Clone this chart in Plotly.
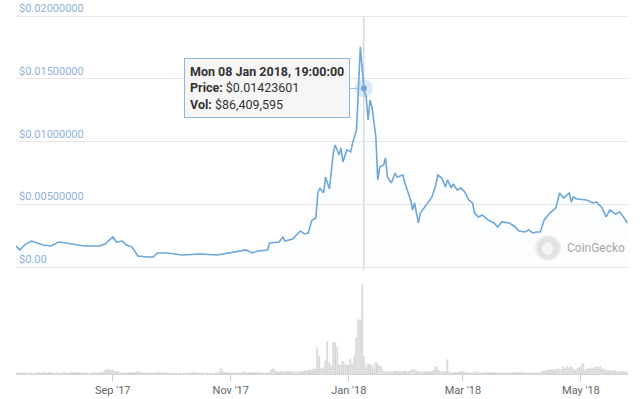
import plotly.graph_objects as go
import pandas as pd

# ---- price series ----
price_dates = [
    "2017-07-13", "2017-07-15", "2017-07-18", "2017-07-21", "2017-07-24", "2017-07-27", "2017-07-31",
    "2017-08-04", "2017-08-08", "2017-08-17", "2017-08-25", "2017-08-28",
    "2017-09-01", "2017-09-03", "2017-09-06", "2017-09-08", "2017-09-11", "2017-09-14", "2017-09-19",
    "2017-09-22", "2017-09-24", "2017-09-29",
    "2017-10-07", "2017-10-16", "2017-10-25",
    "2017-11-02", "2017-11-09", "2017-11-12", "2017-11-15", "2017-11-20", "2017-11-21", "2017-11-26",
    "2017-11-28", "2017-11-29",
    "2017-12-03", "2017-12-07", "2017-12-09", "2017-12-11", "2017-12-13", "2017-12-15", "2017-12-16",
    "2017-12-17", "2017-12-19", "2017-12-20", "2017-12-22", "2017-12-24", "2017-12-25", "2017-12-27",
    "2017-12-28", "2017-12-29", "2017-12-31",
    "2018-01-02", "2018-01-03", "2018-01-05", "2018-01-06", "2018-01-07", "2018-01-08 19:00",
    "2018-01-10", "2018-01-11", "2018-01-12", "2018-01-13", "2018-01-15", "2018-01-16", "2018-01-17",
    "2018-01-19", "2018-01-20", "2018-01-21", "2018-01-23", "2018-01-25", "2018-01-26", "2018-01-29",
    "2018-01-30",
    "2018-02-02", "2018-02-03", "2018-02-04", "2018-02-06", "2018-02-07", "2018-02-09", "2018-02-11",
    "2018-02-13", "2018-02-15", "2018-02-16", "2018-02-18", "2018-02-20", "2018-02-21", "2018-02-23",
    "2018-02-24", "2018-02-26", "2018-02-28",
    "2018-03-02", "2018-03-04", "2018-03-06", "2018-03-07", "2018-03-09", "2018-03-11", "2018-03-14",
    "2018-03-17", "2018-03-19", "2018-03-21", "2018-03-25", "2018-03-28", "2018-03-30",
    "2018-04-02", "2018-04-04", "2018-04-06", "2018-04-08", "2018-04-10", "2018-04-12", "2018-04-15",
    "2018-04-18", "2018-04-20", "2018-04-22", "2018-04-25", "2018-04-26", "2018-04-27", "2018-04-29",
    "2018-05-04", "2018-05-07", "2018-05-09", "2018-05-12", "2018-05-14", "2018-05-16", "2018-05-19",
    "2018-05-21", "2018-05-23", "2018-05-25",
]
price_values = [
    0.00167, 0.00136, 0.00183, 0.00207, 0.00191, 0.00175, 0.00167,
    0.00199, 0.00191, 0.00167, 0.00167, 0.00183,
    0.00239, 0.00199, 0.00207, 0.00175, 0.00159, 0.00088, 0.00080,
    0.00080, 0.00112, 0.00112,
    0.00096, 0.00104, 0.00096,
    0.00120, 0.00136, 0.00112, 0.00128, 0.00136, 0.00191, 0.00199,
    0.00239, 0.00207,
    0.00223, 0.00287, 0.00263, 0.00271, 0.00375, 0.00391, 0.00590,
    0.00630, 0.00590, 0.00717, 0.00622, 0.00909, 0.00972, 0.00893,
    0.00949, 0.00837, 0.00933,
    0.00917, 0.00989, 0.01092, 0.01491, 0.01754, 0.01423601,
    0.01355, 0.01172, 0.01331, 0.01275, 0.01036, 0.00694, 0.00797,
    0.00813, 0.00869, 0.00717, 0.00670, 0.00749, 0.00717, 0.00733,
    0.00670,
    0.00534, 0.00454, 0.00510, 0.00351, 0.00430, 0.00470, 0.00510,
    0.00558, 0.00654, 0.00733, 0.00709, 0.00638, 0.00694, 0.00630,
    0.00662, 0.00614, 0.00630,
    0.00598, 0.00534, 0.00510, 0.00430, 0.00399, 0.00415, 0.00375,
    0.00351, 0.00319, 0.00359, 0.00351, 0.00319, 0.00287,
    0.00279, 0.00295, 0.00271, 0.00279, 0.00279, 0.00375, 0.00430,
    0.00470, 0.00590, 0.00550, 0.00590, 0.00518, 0.00558, 0.00542,
    0.00534, 0.00510, 0.00518, 0.00470, 0.00399, 0.00454, 0.00422,
    0.00438, 0.00399, 0.00351,
]

# ---- daily volume in $ millions ----
vol_jul = [0.5, 0.4, 0.5, 0.6, 1.0, 0.5, 0.4, 0.5, 0.6, 0.4, 0.5, 0.5, 0.6, 0.4, 0.5, 0.5, 0.4, 0.6, 0.5]
vol_aug = [0.5, 0.4, 0.6, 0.5, 0.4, 0.5, 0.6, 0.5, 0.4, 0.5, 0.6, 0.5, 0.5, 1.0, 0.5, 0.4, 0.6, 0.5, 0.5, 0.4,
           0.6, 0.5, 0.5, 0.6, 0.5, 0.8, 1.2, 3.0, 4.0, 3.6, 3.2]
vol_sep = [3.8, 2.6, 2.0, 1.8, 1.2, 1.0, 0.8, 0.9, 0.7, 0.6, 0.6, 0.5, 0.8, 2.0, 0.8, 0.6, 0.5, 0.5, 0.6, 0.5,
           1.2, 0.6, 0.5, 0.5, 1.0, 0.5, 0.4, 0.5, 0.5, 0.4]
vol_oct = [0.4, 0.5, 0.4, 0.5, 0.4, 0.5, 0.4, 0.5, 0.4, 0.5, 0.4, 0.5, 1.0, 0.5, 0.4, 0.5, 1.0, 0.5, 0.4, 0.5,
           0.4, 0.5, 0.4, 0.5, 0.6, 0.8, 4.8, 1.5, 0.6, 0.5, 0.5]
vol_nov = [0.5, 0.6, 0.5, 0.5, 0.6, 0.5, 0.8, 2.0, 0.8, 0.6, 0.5, 0.6, 0.7, 0.6, 0.5, 0.6, 0.7, 0.6, 0.6, 0.8,
           1.0, 3.8, 4.8, 3.0, 1.5, 1.2, 2.0, 2.0, 1.2, 1.8]
vol_dec = [1.5, 2.0, 1.6, 2.0, 1.4, 1.8, 2.2, 1.8, 3.0, 2.9, 1.9, 3.9, 2.9, 4.8, 3.9, 25.2, 16.5, 4.8, 5.8,
           12.6, 31.0, 10.7, 7.8, 30.0, 30.0, 25.2, 8.7, 7.8, 11.6, 8.7, 7.8]
vol_jan = [8.7, 14.6, 9.7, 17.5, 35.0, 52.0, 52.4, 86.41, 16.5, 5.8, 8.7, 8.7, 7.8, 3.9, 10.7, 9.7, 7.8, 6.8,
           2.9, 1.9, 1.9, 1.9, 1.9, 1.9, 2.9, 1.9, 1.9, 1.9, 1.9, 2.9, 1.9]
vol_feb = [1.9, 2.9, 3.9, 3.9, 2.9, 1.9, 1.9, 1.9, 1.9, 1.9, 1.9, 1.9, 1.9, 2.9, 6.8, 4.8, 2.9, 1.9, 1.9, 1.9,
           13.6, 1.9, 1.0, 1.0, 1.0, 1.0, 1.0, 1.9]
vol_mar = [1.5, 1.2, 1.0, 1.4, 1.0, 1.2, 1.0, 1.6, 1.2, 1.0, 1.4, 1.0, 1.2, 1.0, 1.0, 1.3, 1.0, 1.2, 1.0, 1.0,
           1.2, 1.0, 1.1, 1.0, 1.0, 1.2, 1.0, 1.0, 1.1, 1.0, 1.0]
vol_apr = [1.0, 1.0, 1.2, 1.0, 1.0, 1.1, 1.0, 1.0, 1.2, 1.0, 2.9, 1.9, 2.9, 2.9, 3.9, 2.9, 3.9, 2.9, 4.8, 3.9,
           3.9, 6.8, 4.8, 6.8, 5.8, 6.8, 4.8, 2.9, 3.9, 5.8]
vol_may = [5.8, 9.7, 2.9, 3.9, 4.8, 5.8, 4.8, 5.8, 6.8, 5.8, 6.8, 4.8, 3.9, 2.9, 2.9, 2.9, 1.9, 2.9, 2.9, 1.9,
           1.9, 2.9, 1.9, 1.9, 1.9]
vol_month_starts = ["2017-07-13", "2017-08-01", "2017-09-01", "2017-10-01", "2017-11-01", "2017-12-01",
                    "2018-01-01", "2018-02-01", "2018-03-01", "2018-04-01", "2018-05-01"]
vol_months = [vol_jul, vol_aug, vol_sep, vol_oct, vol_nov, vol_dec, vol_jan, vol_feb, vol_mar, vol_apr, vol_may]

# ---- axis ticks ----
x_tick_vals = ["2017-09-01", "2017-11-01", "2018-01-01", "2018-03-01", "2018-05-01"]
x_tick_text = ["Sep '17", "Nov '17", "Jan '18", "Mar '18", "May '18"]
y_tick_vals = [0, 0.005, 0.01, 0.015, 0.02]
y_tick_text = ["$0.00", "$0.00500000", "$0.01000000", "$0.01500000", "$0.02000000"]

hover_date = "2018-01-08 19:00"
hover_price = 0.01423601
hover_vol = "$86,409,595"

vol_dates = []
vol_values = []
for start, vals in zip(vol_month_starts, vol_months):
    vol_dates += list(pd.date_range(start, periods=len(vals), freq="D"))
    vol_values += [v * 1e6 for v in vals]

W, H = 640, 399
ML, MR = 16, 12
line_color = "#6ea6d9"

fig = go.Figure()
fig.add_trace(go.Scatter(
    x=price_dates, y=price_values, mode="lines",
    line=dict(color=line_color, width=1.6),
    fill="tozeroy", fillcolor="rgba(124,181,236,0.03)",
    xaxis="x", yaxis="y", hoverinfo="skip",
))
fig.add_trace(go.Bar(
    x=vol_dates, y=vol_values,
    marker=dict(color="#ececec", line=dict(color="#c2c2c2", width=0.5)),
    width=0.7 * 86400000,
    xaxis="x2", yaxis="y2", hoverinfo="skip",
))
# hover halo + point
fig.add_trace(go.Scatter(
    x=[hover_date], y=[hover_price], mode="markers",
    marker=dict(size=18, color="rgba(124,181,236,0.28)"),
    xaxis="x", yaxis="y", hoverinfo="skip",
))
fig.add_trace(go.Scatter(
    x=[hover_date], y=[hover_price], mode="markers",
    marker=dict(size=6, color=line_color),
    xaxis="x", yaxis="y", hoverinfo="skip",
))

x_range = ["2017-07-13", "2018-05-25 08:00"]
# price: 0 at y=267px, 0.02 at y=16px; domain extends to top of page
p_bot, p_top, p_dom_top = 267, 16, 0
y_max = 0.02 * (p_bot - p_dom_top) / (p_bot - p_top)
price_dom = [(H - p_bot) / H, (H - p_dom_top) / H]
vol_dom = [(H - 374) / H, (H - 277) / H]
vol_max = 86.41e6 * 97 / 89

tick_font = dict(family="Roboto, Liberation Sans, sans-serif", size=11, color="#666666")

fig.update_layout(
    width=W, height=H,
    margin=dict(l=ML, r=MR, t=0, b=0),
    paper_bgcolor="white", plot_bgcolor="white",
    showlegend=False,
    xaxis=dict(domain=[0, 1], range=x_range, type="date", anchor="y", matches="x2",
               showticklabels=False, showgrid=False, zeroline=False,
               showline=True, linecolor="#e6e6e6", linewidth=1),
    yaxis=dict(domain=price_dom, range=[0, y_max], anchor="x",
               tickvals=y_tick_vals, ticktext=y_tick_text,
               ticklabelposition="inside top",
               tickfont=dict(family="Roboto, Liberation Sans, sans-serif", size=11, color="#8fb1d8"),
               showgrid=True, gridcolor="#e6e6e6", gridwidth=1, zeroline=False, ticks=""),
    xaxis2=dict(domain=[0, 1], range=x_range, type="date", anchor="y2",
                tickvals=x_tick_vals, ticktext=x_tick_text, tickfont=tick_font,
                ticks="outside", ticklen=6, tickcolor="#cccccc",
                showgrid=False, zeroline=False,
                showline=True, linecolor="#d4d4d4", linewidth=1),
    yaxis2=dict(domain=vol_dom, range=[0, vol_max], anchor="x2",
                showticklabels=False, showgrid=False, zeroline=False, ticks=""),
    bargap=0,
)

# crosshair line
fig.add_shape(type="line", xref="x", yref="paper",
              x0=hover_date, x1=hover_date, y0=(H - 270) / H, y1=(H - 16) / H,
              line=dict(color="#c8c8c8", width=1), layer="below")

# tooltip
tooltip_text = (
    "<b>Mon 08 Jan 2018, 19:00:00</b><br>"
    f"<b>Price:</b> ${hover_price:.8f}<br>"
    f"<b>Vol:</b> {hover_vol}"
)
fig.add_annotation(
    x=hover_date, y=hover_price, xref="x", yref="y",
    text=tooltip_text, align="left",
    showarrow=True, arrowhead=0, arrowwidth=1, arrowcolor="#8fb6e0",
    ax=-97, ay=0, standoff=6,
    font=dict(family="Roboto, Liberation Sans, sans-serif", size=12.5, color="#333333"),
    bgcolor="rgba(246,246,246,0.95)", bordercolor="#8fb6e0", borderwidth=1, borderpad=5,
)

# CoinGecko watermark
PW = W - ML - MR
cx, cy, r = 548, 248, 12
fig.add_shape(type="circle", xref="paper", yref="paper",
              x0=(cx - r - ML) / PW, x1=(cx + r - ML) / PW,
              y0=(H - cy - r) / H, y1=(H - cy + r) / H,
              fillcolor="#e2e2e2", line=dict(color="#eeeeee", width=2))
fig.add_shape(type="circle", xref="paper", yref="paper",
              x0=(cx - 6 - ML) / PW, x1=(cx + 5 - ML) / PW,
              y0=(H - cy - 7) / H, y1=(H - cy + 6) / H,
              fillcolor="#f4f4f4", line=dict(width=0))
fig.add_annotation(x=(565 - ML) / PW, y=(H - cy) / H, xref="paper", yref="paper",
                   text="CoinGecko", showarrow=False, xanchor="left", yanchor="middle",
                   font=dict(family="Roboto, Liberation Sans, sans-serif", size=12, color="#a8a8a8"))

fig.write_html("out.html", config={"displayModeBar": False},
               post_script="document.body.style.margin='0';document.body.style.overflow='hidden';")
